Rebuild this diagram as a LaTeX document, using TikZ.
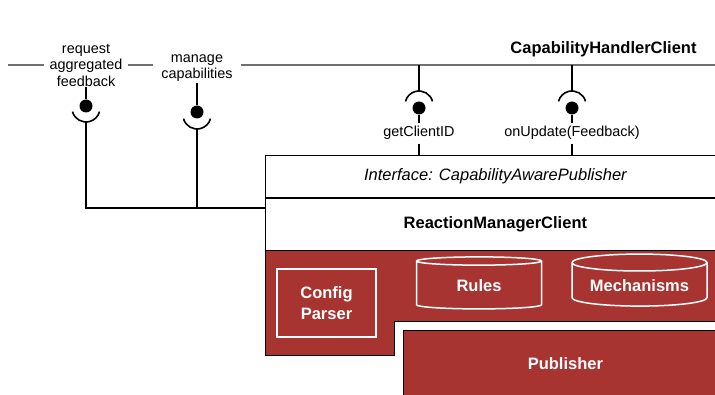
\documentclass[tikz,border=0pt]{standalone}
\usepackage{fontspec}
\setmainfont{Liberation Sans}
\usetikzlibrary{shapes.geometric, positioning, calc}
\definecolor{brick}{HTML}{A83431}
\definecolor{railgray}{HTML}{707070}
\newcommand{\lblfont}{\fontsize{14.4}{16.5}\selectfont}
\newcommand{\headfont}{\fontsize{16.5}{21}\selectfont\bfseries}
\newcommand{\ifacefont}{\fontsize{16.5}{21}\selectfont\itshape}

\begin{document}
\begin{tikzpicture}[x=1pt, y=1pt,
  every node/.style={font=\lblfont},
  tag/.style={align=center, fill=white, inner ysep=1pt},
  rowbox/.style={draw=black, line width=0.8, fill=white, minimum width=460, inner sep=0},
  part/.style={draw=black, line width=0.8, fill=brick, text=white, font=\headfont, align=center},
  piece/.style={draw=white, line width=1.5, fill=brick, text=white, font=\headfont, align=center},
  drum/.style={piece, cylinder, shape border rotate=90, aspect=0.16,
               minimum height=52, minimum width=125},
  ball/.style={circle, fill=black, inner sep=0, minimum size=13},
  wire/.style={line width=1.6, black},
  rail/.style={draw=railgray, line width=1.3},
]
\useasboundingbox (0,0) rectangle (715,-395);
\clip (0,0) rectangle (715,-395);

% provided side: CapabilityHandlerClient
\node[font=\headfont, anchor=base] (handler) at (603.5,-54) {CapabilityHandlerClient};
\coordinate (rail) at (0,-65);
\node[tag, inner xsep=5] (req) at (86,-65) {request\\aggregated\\feedback};
\node[tag, inner xsep=8] (mng) at (197,-68) {manage\\capabilities};
\draw[rail] (8,-65) -- (req.west |- rail);
\draw[rail] (req.east |- rail) -- (mng.west |- rail);
\draw[rail] (mng.east |- rail) -- (730,-65);

% ReactionManagerClient
\draw[part] (265,-249) -- (730,-249) -- (730,-321) -- (394,-321)
  -- (394,-355) -- (265,-355) -- cycle;
\node[rowbox, minimum height=42, anchor=north west, font=\ifacefont] (iface) at (265,-155)
  {Interface: CapabilityAwarePublisher};
\node[rowbox, minimum height=52, below=0pt of iface, font=\headfont] (rmc) {ReactionManagerClient};

\node[piece, minimum width=99, minimum height=68] (cfg) at (326.5,-303) {Config\\Parser};
\node[drum] (rules) at (479,-286) {Rules};
\node[drum, minimum width=135] (mech) at (639.5,-286) {Mechanisms};
\node[part, minimum width=324, minimum height=66, anchor=north west] (pub) at (403,-330) {Publisher};

% required interfaces (ball below, socket under it)
\node[ball] (b1) at (86,-106) {};
\node[ball] (b2) at (197,-112) {};
\coordinate (join) at (265,-208);
\draw[wire] (req) -- (b1);
\draw[wire] (mng) -- (b2);
\draw[wire] ([yshift=-2]b1.center) ++(195:14) arc[start angle=195, end angle=345, radius=14];
\draw[wire] ([yshift=-3]b2.center) ++(195:14) arc[start angle=195, end angle=345, radius=14];
\draw[wire] ([yshift=-16]b1.center) -- (b1 |- join) -- (join);
\draw[wire] ([yshift=-17]b2.center) -- (b2 |- join);

% interfaces offered towards the handler
\node[ball] (b3) at (419,-108) {};
\node[ball] (b4) at (572,-108) {};
\node[anchor=base] (gid) at (419,-137) {getClientID};
\node[anchor=base] (upd) at (572,-137) {onUpdate(Feedback)};
\foreach \b/\t in {b3/gid, b4/upd} {
  \draw[wire] (\b |- rail) -- ([yshift=17]\b.center);
  \draw[wire] ([yshift=3]\b.center) ++(15:14) arc[start angle=15, end angle=165, radius=14];
  \draw[wire] (\b) -- (\t);
  \draw[wire] (\t) -- (\t |- iface.north);
}

\end{tikzpicture}
\end{document}
